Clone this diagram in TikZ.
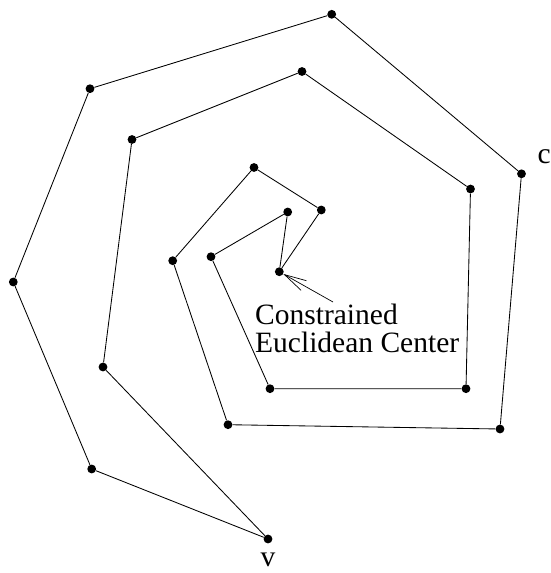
\documentclass[tikz,border=0pt]{standalone}
\usepackage{fontspec}
\setmainfont{Liberation Serif}
\usetikzlibrary{arrows.meta}
\tikzset{
  dot/.style={circle, fill=black, draw=none, inner sep=0pt, minimum size=8.8pt},
  edge/.style={line width=0.85pt, line join=round},
  lab/.style={inner sep=0pt, font=\fontsize{29.5}{28}\selectfont},
  pointer/.style={line width=0.7pt, -{Straight Barb[length=22pt, width=11pt, line width=0.7pt]}}
}
\begin{document}
\begin{tikzpicture}[x=1pt, y=-1pt]
  \useasboundingbox (0,0) rectangle (551,573);

  % shared endpoints
  \node[dot] (v)   at (268,539) {};
  \node[dot] (cen) at (279.3,271.7) {};

  % outer chain
  \node[dot] (a1)  at (91.7,469) {};
  \node[dot] (a2)  at (13.3,282) {};
  \node[dot] (a3)  at (90,88.7) {};
  \node[dot] (a4)  at (331.7,14.3) {};
  \node[dot] (a5)  at (521.5,173.8) {};
  \node[dot] (a6)  at (500,429) {};
  \node[dot] (a7)  at (228,424.7) {};
  \node[dot] (a8)  at (172.7,260.7) {};
  \node[dot] (a9)  at (254,167.5) {};
  \node[dot] (a10) at (321.3,210) {};

  % inner chain
  \node[dot] (b1)  at (103,367) {};
  \node[dot] (b2)  at (132,139.5) {};
  \node[dot] (b3)  at (302,71.5) {};
  \node[dot] (b4)  at (470.5,189) {};
  \node[dot] (b5)  at (466,388.7) {};
  \node[dot] (b6)  at (270,388.7) {};
  \node[dot] (b7)  at (211,256.7) {};
  \node[dot] (b8)  at (287.7,212) {};

  \draw[edge] (v) -- (a1) -- (a2) -- (a3) -- (a4) -- (a5) -- (a6)
              -- (a7) -- (a8) -- (a9) -- (a10) -- (cen);
  \draw[edge] (v) -- (b1) -- (b2) -- (b3) -- (b4) -- (b5) -- (b6)
              -- (b7) -- (b8) -- (cen);

  % labels
  \node[lab, anchor=base west] (lc) at (537.5,163.5) {c};
  \node[lab, anchor=base] (lv) at (268,566) {v};
  \node[lab, anchor=north west, align=left] (cec) at (255,303.5)
       {Constrained\\Euclidean Center};

  \coordinate (tail) at (333,302);
  \draw[pointer] (tail) -- (cen);
\end{tikzpicture}
\end{document}
